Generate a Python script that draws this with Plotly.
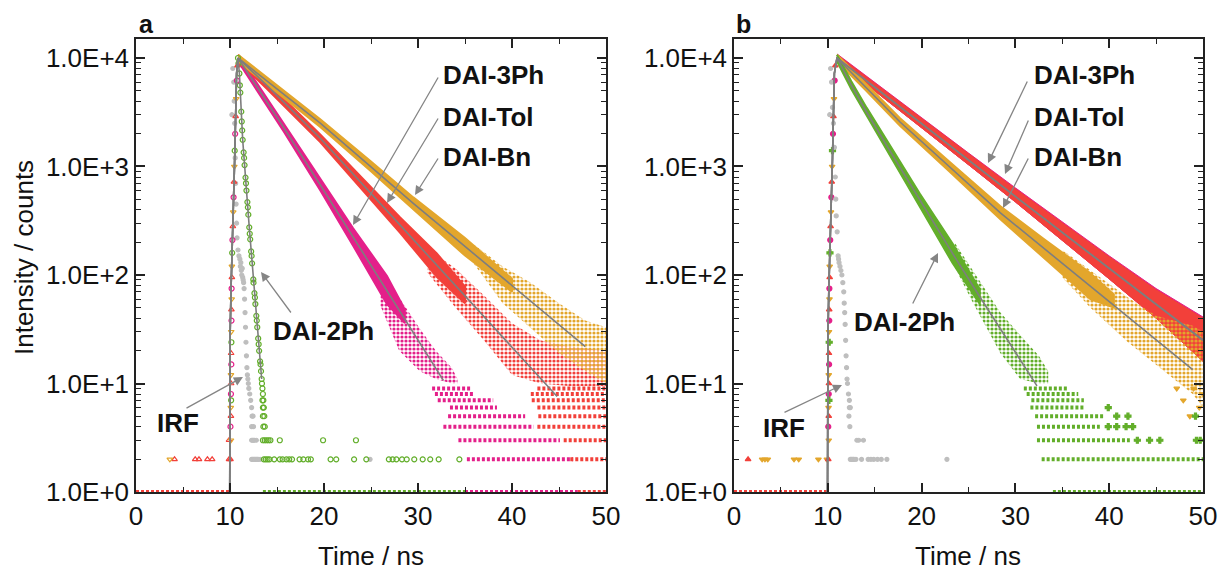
import plotly.graph_objects as go

W, H = 1225, 571
FONT = "Liberation Sans, Arial, sans-serif"

# ---------------- axes / ticks ----------------
X_TICKS = [0, 10, 20, 30, 40, 50]
X_MINOR = [5, 15, 25, 35, 45]
Y_TICKS = [1, 10, 100, 1000, 10000]
Y_TICKTEXT = ["1.0E+0", "1.0E+1", "1.0E+2", "1.0E+3", "1.0E+4"]
Y_MINOR = [2, 3, 4, 5, 6, 7, 8, 9, 20, 30, 40, 50, 60, 70, 80, 90,
           200, 300, 400, 500, 600, 700, 800, 900,
           2000, 3000, 4000, 5000, 6000, 7000, 8000, 9000]

# ---------------- shared rise (fit + markers) ----------------
FIT_RISE_T = [9.97, 10.02, 10.12, 10.28, 10.5, 10.7]
FIT_RISE_C = [1, 30, 80, 210, 1200, 7200]
RISE_T = [10.05, 10.1, 10.05, 10.1, 10.08, 10.12, 10.1, 10.12, 10.1, 10.14, 10.12, 10.15, 10.13, 10.16, 10.15, 10.18,
          10.17, 10.2, 10.2, 10.23, 10.26, 10.3, 10.34, 10.38, 10.42, 10.46, 10.5, 10.55, 10.6, 10.66, 10.73, 10.8]
RISE_C = [2, 3, 4, 5, 6, 7, 8, 10, 12, 15, 19, 24, 30, 38, 48, 60,
          75, 95, 120, 160, 210, 280, 380, 520, 720, 1000, 1400, 2000, 2900, 4200, 6200, 8500]
RISE_S = [1, 2, 0, 1, 2, 3, 0, 1, 2, 0, 1, 3, 2, 0, 1, 2,
          0, 1, 2, 3, 0, 1, 2, 0, 1, 2, 3, 0, 1, 2, 0, 1]

# ================= PANEL a =================
# DAI-3Ph (pink)
A_3PH_FIT_T = [10.85, 12.0, 15.7, 19.6, 23.1, 26.7, 32.7]
A_3PH_FIT_C = [10000, 7080, 2291, 676, 224, 72.4, 10.7]
A_3PH_T = [10.85, 12.0, 15.7, 19.6, 23.1, 26.7, 28.6]
A_3PH_UP = [10715, 7586, 2483, 758, 269, 98, 48]
A_3PH_LO = [9333, 6607, 2113, 603, 186, 54, 36]
A_3PH_SP_T = [26.0, 28.0, 30.2, 31.9, 33.6, 34.2]
A_3PH_SP_UP = [100, 62, 32, 20, 14, 11]
A_3PH_SP_LO = [52, 20, 13, 11, 10, 10]
A_3PH_ROW_C = [9, 8, 7, 6, 5, 4, 3, 2, 1]
A_3PH_ROW_T0 = [31.5, 31.8, 32.1, 33.4, 33.2, 32.7, 34.3, 35.2, 35.0]
A_3PH_ROW_T1 = [35.7, 35.9, 38.0, 38.4, 41.4, 42.3, 45.1, 46.5, 47.0]

# DAI-Tol (red)
A_TOL_FIT_T = [10.85, 14.0, 19.6, 28.1, 44.8]
A_TOL_FIT_C = [10000, 5500, 1820, 288, 7.6]
A_TOL_T = [10.85, 14.0, 19.6, 24.0, 28.1, 32.0, 35.0]
A_TOL_UP = [10715, 5888, 1972, 787, 339, 158, 78]
A_TOL_LO = [9333, 5129, 1679, 625, 245, 96, 55]
A_TOL_SP_T = [31.0, 34.0, 37.0, 40.0, 43.0, 46.0, 50.0]
A_TOL_SP_UP = [175, 115, 65, 36, 25, 22, 20]
A_TOL_SP_LO = [105, 50, 25, 12, 10, 9.5, 9.5]
A_TOL_ROW_C = [9, 8, 7, 6, 5, 4, 3, 2, 1, 1]
A_TOL_ROW_T0 = [42.7, 42.0, 42.1, 42.7, 42.8, 42.7, 45.5, 46.2, 47.0, 0.0]
A_TOL_ROW_T1 = [50, 50, 50, 50, 50, 50, 50, 50, 50, 10.0]
A_TOL_PTS_T = [4.1, 6.3, 6.7, 7.6, 8.1, 9.9, 9.9]
A_TOL_PTS_C = [2, 2, 2, 2, 2, 2, 3]

# DAI-Bn (orange)
A_BN_FIT_T = [10.85, 19.6, 29.5, 47.8]
A_BN_FIT_C = [10000, 2512, 457, 21.9]
A_BN_T = [10.85, 15.0, 19.6, 25.0, 29.5, 35.0, 40.0]
A_BN_UP = [10715, 5559, 2723, 1109, 519, 219, 92]
A_BN_LO = [9333, 4842, 2317, 902, 403, 151, 70]
A_BN_SP_T = [36.0, 39.0, 42.0, 45.0, 47.8, 50.0]
A_BN_SP_UP = [190, 120, 85, 55, 38, 33]
A_BN_SP_LO = [125, 55, 32, 19, 13, 10]
A_BN_PTS_T = [3.6]
A_BN_PTS_C = [2]

# DAI-2Ph (green)
A_2PH_FIT_T = [10.85, 11.0, 11.35, 12.05, 12.48, 13.37]
A_2PH_FIT_C = [10000, 7200, 1760, 275, 91, 11]
A_2PH_T = [10.85, 10.9, 11.0, 11.05, 11.1, 11.2, 11.25, 11.3, 11.35, 11.45,
           11.5, 11.55, 11.65, 11.7, 11.75, 11.85, 11.9, 11.95, 12.05, 12.1,
           12.15, 12.25, 12.3, 12.35, 12.48, 12.5, 12.6, 12.65, 12.7, 12.8,
           12.85, 12.9, 13.0, 13.05, 13.1, 13.2, 13.25, 13.3, 13.37, 13.4,
           13.45, 13.5, 13.45, 13.55, 13.5, 13.6, 13.5, 13.65, 13.55, 13.7,
           13.5, 13.7, 13.9, 14.1, 14.3, 15.3, 19.9, 23.4,
           13.6, 13.8, 14.0, 14.2, 14.7, 15.3, 15.6, 16.0, 16.3, 16.6, 17.4, 17.8, 18.3, 18.6,
           20.7, 21.3, 23.2, 24.5, 26.9, 27.3, 27.7, 28.3, 28.8, 29.6, 30.5, 31.3, 32.2, 34.4]
A_2PH_C = [10000, 8900, 7200, 5600, 4800, 3200, 2600, 2150, 1760, 1350,
           1200, 1030, 790, 700, 600, 470, 420, 360, 275, 240,
           213, 165, 150, 128, 91, 85, 68, 62, 54, 42,
           38, 33, 26, 23, 20, 16, 15, 13, 11, 10,
           9, 8, 7, 7, 6, 6, 5, 5, 4, 4,
           3, 3, 3, 3, 3, 3, 3, 3,
           2, 2, 2, 2, 2, 2, 2, 2, 2, 2, 2, 2, 2, 2,
           2, 2, 2, 2, 2, 2, 2, 2, 2, 2, 2, 2, 2, 2]
A_2PH_ROW_C = [1]
A_2PH_ROW_T0 = [13.5]
A_2PH_ROW_T1 = [35.0]

# IRF (grey)
A_IRF_T = [10.2, 10.3, 10.4, 10.45, 10.5, 10.55, 10.6, 10.65, 10.7, 10.75,
           10.85, 10.95, 11.05, 11.1, 11.15, 11.2, 11.25, 11.3, 11.35, 11.4,
           11.45, 11.5, 11.55, 11.6, 11.65, 11.7, 11.75, 11.8, 11.85, 11.9,
           11.95, 12.0, 12.1, 12.2, 12.3, 12.35, 12.45, 12.3, 12.5,
           12.3, 12.4, 12.5, 12.6, 12.8,
           12.3, 12.4, 12.5, 12.6, 12.7, 12.8, 12.9, 13.0, 13.2, 24.9]
A_IRF_C = [3000, 8000, 6000, 4000, 2500, 1200, 700, 450, 300, 220,
           170, 150, 140, 120, 130, 110, 100, 115, 95, 90,
           85, 75, 60, 45, 33, 24, 18, 14, 12, 11,
           10, 9, 8, 7, 6, 5, 5, 4, 4,
           3, 3, 3, 3, 3,
           2, 2, 2, 2, 2, 2, 2, 2, 2, 2]

# ================= PANEL b =================
B_3PH_FIT_T = [10.98, 30.5, 50.0]
B_3PH_FIT_C = [10000, 490, 25.0]
B_3PH_T = [10.98, 15, 20, 25, 30, 35, 40, 45, 50]
B_3PH_UP = [10900, 5950, 2800, 1330, 635, 308, 150, 75, 41]
B_3PH_LO = [9333, 4977, 2286, 1038, 471, 209, 92, 40, 16]

B_TOL_FIT_T = [10.98, 30.5, 50.0]
B_TOL_FIT_C = [10000, 490, 25.1]
B_TOL_T = [10.98, 15, 20, 25, 30, 35, 40, 45, 50]
B_TOL_UP = [10715, 5848, 2748, 1306, 621, 302, 147, 73, 40]
B_TOL_LO = [9333, 4977, 2286, 1038, 471, 209, 92, 40, 16]
B_TOL_ROW_C = [1]
B_TOL_ROW_T0 = [0.0]
B_TOL_ROW_T1 = [10.0]
B_TOL_PTS_T = [1.5]
B_TOL_PTS_C = [2]

B_BN_FIT_T = [10.98, 17.7, 28.4, 48.9]
B_BN_FIT_C = [10000, 2570, 374, 13.4]
B_BN_T = [10.98, 14.0, 17.7, 23.0, 28.4, 33.0, 38.0, 40.5]
B_BN_UP = [10715, 5834, 2786, 1102, 430, 216, 104, 66]
B_BN_LO = [9333, 5082, 2371, 895, 326, 146, 60, 50]
B_BN_SP_T = [35.0, 38.0, 42.0, 45.0, 48.9, 50.0]
B_BN_SP_UP = [170, 110, 62, 42, 34, 30]
B_BN_SP_LO = [95, 50, 24, 15, 8, 6]
B_BN_PTS_T = [47.2, 47.9, 48.6, 49.0, 49.6, 50.0, 3.0, 3.3, 3.6, 6.4, 6.9, 9.0, 9.9]
B_BN_PTS_C = [9, 7, 5, 9, 6, 8, 2, 2, 2, 2, 2, 2, 2]

B_2PH_FIT_T = [10.98, 12.5, 14.15, 16.3, 19.8, 23.3, 26.2, 28.4, 32.3]
B_2PH_FIT_C = [10000, 5623, 3162, 1549, 490, 158, 63, 31.6, 9.5]
B_2PH_T = [10.98, 12.5, 14.15, 16.3, 19.8, 23.3, 26.2]
B_2PH_UP = [10715, 6095, 3467, 1718, 562, 195, 74]
B_2PH_LO = [9333, 5188, 2884, 1396, 427, 129, 54]
B_2PH_SP_T = [23.5, 25.5, 28.4, 30.5, 32.5, 33.5]
B_2PH_SP_UP = [200, 110, 45, 28, 18, 13]
B_2PH_SP_LO = [120, 55, 19, 11, 10, 10]
B_2PH_ROW_C = [9, 8, 7, 6, 5, 4, 3, 2, 1]
B_2PH_ROW_T0 = [30.9, 31.2, 31.7, 31.6, 32.1, 32.3, 32.3, 32.8, 34.0]
B_2PH_ROW_T1 = [35.5, 36.7, 37.3, 37.3, 39.5, 39.0, 42.2, 50.0, 50.0]
B_2PH_PTS_T = [39.9, 40.8, 42.0, 49.2, 39.9, 40.8, 41.8, 42.5, 43.0, 44.3, 45.4, 49.3, 49.7]
B_2PH_PTS_C = [6, 5, 5, 5, 4, 4, 4, 4, 3, 3, 3, 3, 3]

B_IRF_T = [10.2, 10.3, 10.4, 10.5, 10.6, 10.7, 10.8, 10.85, 10.9, 11.0,
           11.1, 11.15, 11.2, 11.3, 11.4, 11.5, 11.6, 11.7, 11.75, 11.8,
           11.85, 11.9, 11.95, 12.0, 12.05, 12.1, 12.2, 12.3, 12.3, 12.4,
           12.25, 12.35, 13.1, 13.3, 13.8,
           12.4, 12.5, 12.6, 12.7, 12.8, 13.0, 13.6, 14.3, 14.6, 14.9, 15.3, 15.7, 16.3, 22.7]
B_IRF_C = [3000, 8000, 6000, 3500, 2500, 1500, 800, 500, 350, 250,
           150, 140, 130, 120, 110, 100, 85, 70, 55, 45,
           35, 25, 18, 14, 11, 10, 8, 7, 6, 6,
           5, 4, 3, 3, 3,
           2, 2, 2, 2, 2, 2, 2, 2, 2, 2, 2, 2, 2, 2]

# ---------------- styles ----------------
PINK = "#E4208A"
RED = "#F2403A"
ORANGE = "#E3A62C"
GREEN = "#62AE2A"
IRF_GREY = "#BEBEBE"
FIT_GREY = "#7E7E7E"
ARROW_GREY = "#858585"
AX = "#222222"

SER_A = [(PINK, "circle-open"), (RED, "triangle-up-open"), (ORANGE, "triangle-down-open"), (GREEN, "circle-open")]
SER_B = [(PINK, "circle"), (RED, "triangle-up"), (ORANGE, "triangle-down"), (GREEN, "cross")]

fig = go.Figure()


def band(t, up, lo, color, xa, ya, sparse=False, edge=2):
    xs = list(t) + list(t)[::-1]
    ys = list(up) + list(lo)[::-1]
    if sparse:
        fig.add_trace(go.Scatter(x=xs, y=ys, mode="lines", fill="toself", fillcolor="rgba(0,0,0,0)",
                                 fillpattern=dict(shape=".", fgcolor=color, bgcolor="rgba(0,0,0,0)",
                                                  size=4, solidity=0.5),
                                 line=dict(width=0), hoverinfo="skip", showlegend=False, xaxis=xa, yaxis=ya))
    else:
        fig.add_trace(go.Scatter(x=xs, y=ys, mode="lines", fill="toself", fillcolor=color,
                                 line=dict(color=color, width=edge), hoverinfo="skip", showlegend=False,
                                 xaxis=xa, yaxis=ya))


def rows(cs, t0s, t1s, color, xa, ya, width=4):
    xs, ys = [], []
    for c, a, b in zip(cs, t0s, t1s):
        xs += [a, b, None]
        ys += [c, c, None]
    fig.add_trace(go.Scatter(x=xs, y=ys, mode="lines", line=dict(color=color, width=width, dash="3px,2px"),
                             hoverinfo="skip", showlegend=False, xaxis=xa, yaxis=ya))


def pts(t, c, color, symbol, xa, ya, size=5):
    fig.add_trace(go.Scatter(x=t, y=c, mode="markers",
                             marker=dict(color=color, symbol=symbol, size=size, line=dict(width=1.2, color=color)),
                             hoverinfo="skip", showlegend=False, xaxis=xa, yaxis=ya))


def fit(t, c, xa, ya):
    fig.add_trace(go.Scatter(x=FIT_RISE_T + list(t), y=FIT_RISE_C + list(c), mode="lines",
                             line=dict(color=FIT_GREY, width=1.6), hoverinfo="skip", showlegend=False,
                             xaxis=xa, yaxis=ya))


def rise(ser, xa, ya):
    for k, (color, sym) in enumerate(ser):
        tt = [t for t, s in zip(RISE_T, RISE_S) if s == k]
        cc = [c for c, s in zip(RISE_C, RISE_S) if s == k]
        pts(tt, cc, color, sym, xa, ya)


# ---------------- panel a traces ----------------
xa, ya = "x", "y"
rows(A_2PH_ROW_C, A_2PH_ROW_T0, A_2PH_ROW_T1, GREEN, xa, ya)
rows(A_3PH_ROW_C, A_3PH_ROW_T0, A_3PH_ROW_T1, PINK, xa, ya)
band(A_3PH_SP_T, A_3PH_SP_UP, A_3PH_SP_LO, PINK, xa, ya, sparse=True)
band(A_3PH_T, A_3PH_UP, A_3PH_LO, PINK, xa, ya)
rows(A_TOL_ROW_C, A_TOL_ROW_T0, A_TOL_ROW_T1, RED, xa, ya)
band(A_TOL_SP_T, A_TOL_SP_UP, A_TOL_SP_LO, RED, xa, ya, sparse=True)
band(A_TOL_T, A_TOL_UP, A_TOL_LO, RED, xa, ya)
pts(A_TOL_PTS_T, A_TOL_PTS_C, RED, "triangle-up-open", xa, ya)
band(A_BN_SP_T, A_BN_SP_UP, A_BN_SP_LO, ORANGE, xa, ya, sparse=True)
band(A_BN_T, A_BN_UP, A_BN_LO, ORANGE, xa, ya)
pts(A_BN_PTS_T, A_BN_PTS_C, ORANGE, "triangle-down-open", xa, ya)
pts(A_IRF_T, A_IRF_C, IRF_GREY, "circle", xa, ya, size=4)
pts(A_2PH_T, A_2PH_C, GREEN, "circle-open", xa, ya)
rise(SER_A, xa, ya)
fit(A_2PH_FIT_T, A_2PH_FIT_C, xa, ya)
fit(A_3PH_FIT_T, A_3PH_FIT_C, xa, ya)
fit(A_TOL_FIT_T, A_TOL_FIT_C, xa, ya)
fit(A_BN_FIT_T, A_BN_FIT_C, xa, ya)

# ---------------- panel b traces ----------------
xb, yb = "x2", "y2"
rows(B_TOL_ROW_C, B_TOL_ROW_T0, B_TOL_ROW_T1, RED, xb, yb)
band(B_3PH_T, B_3PH_UP, B_3PH_LO, PINK, xb, yb, edge=1)
band(B_TOL_T, B_TOL_UP, B_TOL_LO, RED, xb, yb, edge=1)
pts(B_TOL_PTS_T, B_TOL_PTS_C, RED, "triangle-up", xb, yb)
band(B_BN_SP_T, B_BN_SP_UP, B_BN_SP_LO, ORANGE, xb, yb, sparse=True)
band(B_BN_T, B_BN_UP, B_BN_LO, ORANGE, xb, yb)
pts(B_BN_PTS_T, B_BN_PTS_C, ORANGE, "triangle-down", xb, yb)
rows(B_2PH_ROW_C, B_2PH_ROW_T0, B_2PH_ROW_T1, GREEN, xb, yb)
band(B_2PH_SP_T, B_2PH_SP_UP, B_2PH_SP_LO, GREEN, xb, yb, sparse=True)
band(B_2PH_T, B_2PH_UP, B_2PH_LO, GREEN, xb, yb)
pts(B_2PH_PTS_T, B_2PH_PTS_C, GREEN, "cross", xb, yb)
rise(SER_B, xb, yb)
pts(B_IRF_T, B_IRF_C, IRF_GREY, "circle", xb, yb, size=4)
fit(B_2PH_FIT_T, B_2PH_FIT_C, xb, yb)
fit(B_BN_FIT_T, B_BN_FIT_C, xb, yb)
fit(B_3PH_FIT_T, B_3PH_FIT_C, xb, yb)
fit(B_TOL_FIT_T, B_TOL_FIT_C, xb, yb)

# ---------------- axes ----------------
common = dict(showgrid=False, zeroline=False, showline=True, linecolor=AX, linewidth=1.5,
              mirror="allticks", ticks="inside", ticklen=9, tickwidth=1.5, tickcolor=AX,
              tickfont=dict(family=FONT, size=26, color="#111111"), automargin=False)
xcfg = dict(common, range=[0, 50], tickmode="array", tickvals=X_TICKS, ticktext=[str(v) for v in X_TICKS],
            minor=dict(tickmode="array", tickvals=X_MINOR, ticks="inside", ticklen=5, tickwidth=1.2,
                       tickcolor=AX, showgrid=False))
ycfg = dict(common, type="log", range=[0, 4.175], tickmode="array", tickvals=Y_TICKS, ticktext=Y_TICKTEXT,
            minor=dict(tickmode="array", tickvals=Y_MINOR, ticks="inside", ticklen=5, tickwidth=1.2,
                       tickcolor=AX, showgrid=False))
ydom = [1 - 492 / H, 1 - 39 / H]

fig.update_layout(
    width=W, height=H, template="none",
    margin=dict(l=0, r=0, t=0, b=0, pad=0),
    paper_bgcolor="white", plot_bgcolor="white",
    font=dict(family=FONT, color="#111111"),
    showlegend=False,
    xaxis=dict(xcfg, domain=[136 / W, 606 / W], anchor="y"),
    yaxis=dict(ycfg, domain=ydom, anchor="x"),
    xaxis2=dict(xcfg, domain=[734 / W, 1203 / W], anchor="y2"),
    yaxis2=dict(ycfg, domain=ydom, anchor="x2"),
)


def X(px):
    return px / W


def Y(py):
    return 1 - py / H


def label(text, px, py, size=26, bold=True, angle=0, xanchor="left"):
    fig.add_annotation(x=X(px), y=Y(py), xref="paper", yref="paper", text=f"<b>{text}</b>" if bold else text,
                       showarrow=False, xanchor=xanchor, yanchor="middle", textangle=angle,
                       font=dict(family=FONT, size=size, color="#111111"))


def arrow(hx, hy, tx, ty):
    fig.add_annotation(x=X(hx), y=Y(hy), xref="paper", yref="paper", text="", showarrow=True,
                       ax=tx - hx, ay=ty - hy, axref="pixel", ayref="pixel",
                       arrowhead=2, arrowsize=1.4, arrowwidth=1.3, arrowcolor=ARROW_GREY, standoff=0)


# panel letters
label("a", 137, 24, size=25)
label("b", 734, 24, size=25)
# axis titles
label("Intensity / counts", 24, 258, size=26, bold=False, angle=-90, xanchor="center")
label("Time / ns", 371, 556, size=26, bold=False, xanchor="center")
label("Time / ns", 968, 556, size=26, bold=False, xanchor="center")

# panel a annotations
label("DAI-3Ph", 441, 75)
label("DAI-Tol", 441, 117)
label("DAI-Bn", 441, 157)
label("DAI-2Ph", 271, 331)
label("IRF", 155, 423)
arrow(353, 225, 439, 76)
arrow(387, 203, 439, 117)
arrow(415, 195, 439, 157)
arrow(261, 272, 292, 314)
arrow(243, 377, 185, 409)

# panel b annotations
label("DAI-3Ph", 1032, 75)
label("DAI-Tol", 1032, 117)
label("DAI-Bn", 1032, 157)
label("DAI-2Ph", 852, 322)
label("IRF", 761, 428)
arrow(988, 163, 1028, 80)
arrow(1005, 174, 1029, 119)
arrow(1003, 208, 1029, 157)
arrow(938, 253, 912, 305)
arrow(842, 385, 783, 413)

fig.write_html("out.html")
